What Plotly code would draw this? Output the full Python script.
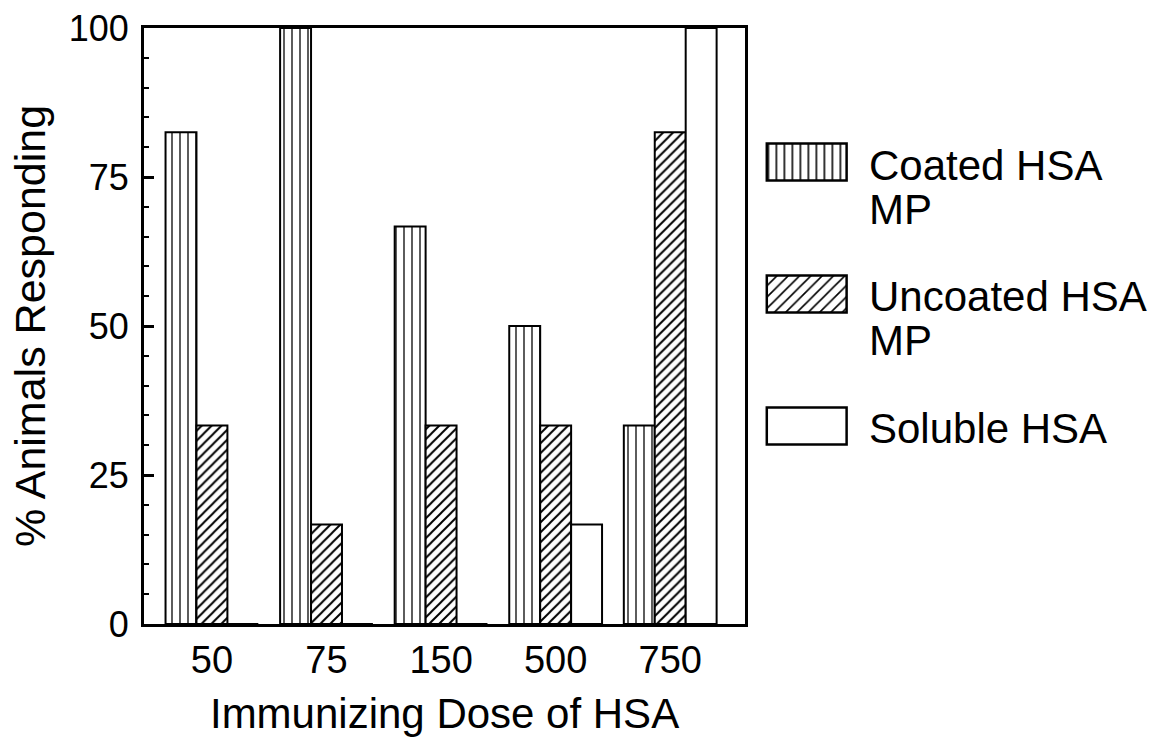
import plotly.graph_objects as go

# ---- data ----
doses = ["50", "75", "150", "500", "750"]
coated = [82.5, 100, 66.7, 50, 33.3]
uncoated = [33.3, 16.7, 33.3, 33.3, 82.5]
soluble = [0, 0, 0, 16.7, 100]
series_names = ["Coated HSA MP", "Uncoated HSA MP", "Soluble HSA"]
legend_lines = [["Coated HSA", "MP"], ["Uncoated HSA", "MP"], ["Soluble HSA"]]
y_ticks = [0, 25, 50, 75, 100]

FONT = "Liberation Sans, Arial, Helvetica, sans-serif"
patterns = [
    dict(shape="|", fgcolor="black", bgcolor="white", size=8, solidity=0.16, fillmode="replace"),
    dict(shape="/", fgcolor="black", bgcolor="white", size=7, solidity=0.28, fillmode="replace"),
    dict(shape="", fgcolor="black", bgcolor="white", fillmode="replace"),
]

fig = go.Figure()
for name, vals, pat in zip(series_names, [coated, uncoated, soluble], patterns):
    fig.add_trace(go.Bar(
        x=doses, y=vals, name=name, showlegend=False,
        marker=dict(color="white", line=dict(color="black", width=2), pattern=pat),
    ))

# custom legend swatches (large patterned boxes) on a small auxiliary axis
fig.add_trace(go.Bar(
    orientation="h", x=[1] * len(series_names), y=series_names,
    xaxis="x2", yaxis="y2", width=0.28, showlegend=False, hoverinfo="skip",
    marker=dict(color="white", line=dict(color="black", width=2.5),
                pattern=dict(shape=[p["shape"] for p in patterns], fgcolor="black",
                             bgcolor="white", size=8, solidity=0.2, fillmode="replace")),
))

annotations = []
for i, lines in enumerate(legend_lines):
    for j, line in enumerate(lines):
        annotations.append(dict(
            xref="paper", yref="y2", x=1.0255, y=i, xanchor="left", yanchor="middle",
            text=line, showarrow=False, yshift=-3 - 44 * j,
            font=dict(family=FONT, size=42, color="black"),
        ))

fig.update_layout(
    width=1167, height=740,
    margin=dict(l=144, r=318, t=28, b=116, autoexpand=False),
    paper_bgcolor="white", plot_bgcolor="white",
    barmode="group", bargap=0.19, bargroupgap=0,
    font=dict(family=FONT, color="black"),
    xaxis=dict(
        domain=[0, 602 / 706], type="category", range=[-0.593, 4.654],
        showline=True, linecolor="black", linewidth=3, mirror=True,
        ticks="", showgrid=False, zeroline=False, automargin=False,
        tickfont=dict(family=FONT, size=38, color="black"), ticklabelstandoff=0,
        title=dict(text="Immunizing Dose of HSA", font=dict(family=FONT, size=42, color="black"), standoff=20),
    ),
    yaxis=dict(
        range=[0, 100], tickvals=y_ticks, ticktext=[str(v) for v in y_ticks],
        showline=True, linecolor="black", linewidth=3, mirror=True,
        ticks="inside", ticklen=10, tickwidth=2.5, tickcolor="black",
        minor=dict(dtick=5, ticks="inside", ticklen=5, tickwidth=2, tickcolor="black", showgrid=False),
        showgrid=False, zeroline=False, automargin=False,
        tickfont=dict(family=FONT, size=36, color="black"), ticklabelstandoff=5,
        title=dict(text="% Animals Responding", font=dict(family=FONT, size=43, color="black"), standoff=10),
    ),
    xaxis2=dict(domain=[0.88, 1.0], anchor="y2", range=[-0.03, 1.03], visible=False),
    yaxis2=dict(domain=[0.2215, 0.8859], anchor="x2", type="category",
                range=[2.5, -0.5], visible=False),
    annotations=annotations,
)

fig.write_html("out.html", config={"displayModeBar": False},
               post_script="document.body.style.margin='0';")
